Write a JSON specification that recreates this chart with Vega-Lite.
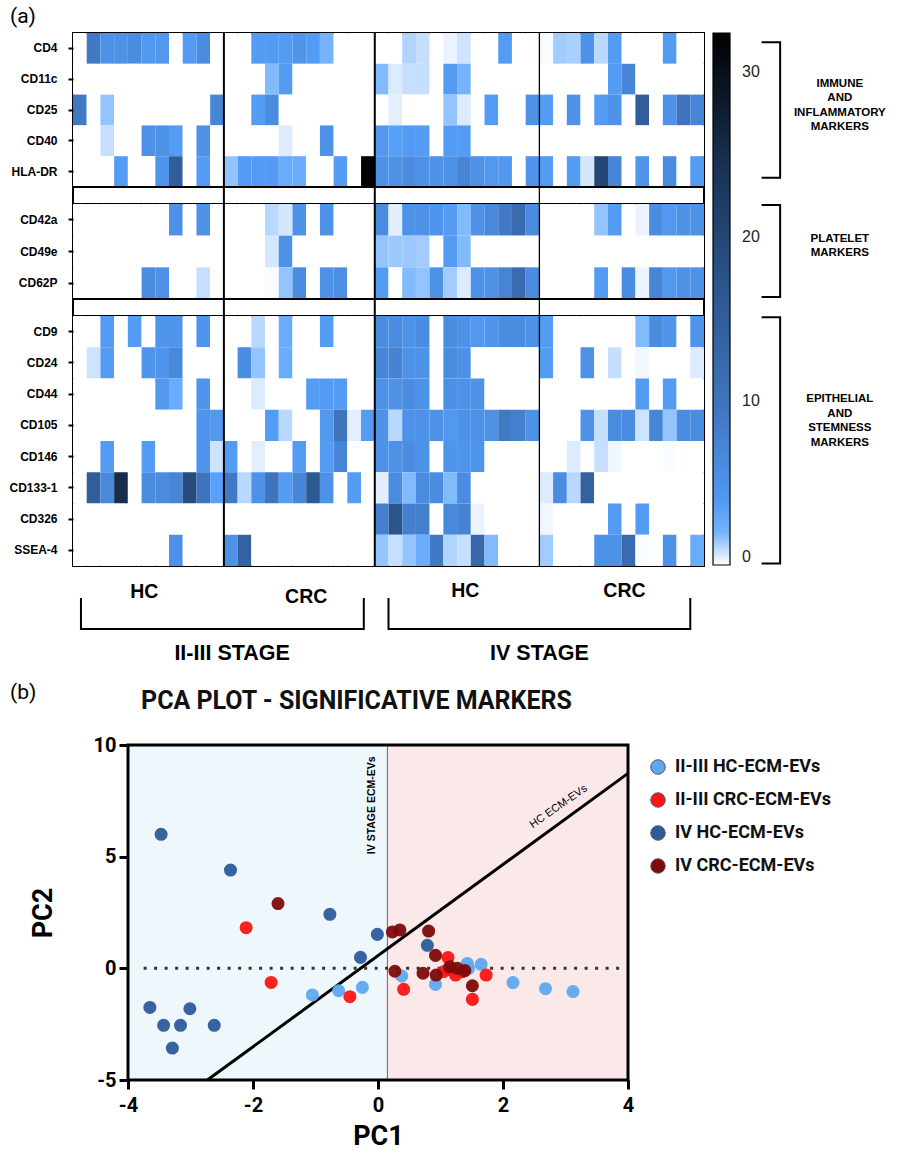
{
"$schema":"https://vega.github.io/schema/vega-lite/v6.json",
"background":"white",
"padding":{"left":7,"top":6,"right":0,"bottom":12},
"config":{"view":{"stroke":null},"font":"Roboto","axis":{"grid":false}},
"title":{"text":"(a)","anchor":"start","frame":"group","dx":-63,"offset":4,"font":"Roboto","fontSize":21,"fontWeight":"normal","color":"black"},
"datasets":{
"div":[{"s":12},{"s":23},{"s":35}],
"pca":[
{"g":"II-III HC-ECM-EVs","x":-1.05,"y":-1.19},{"g":"II-III HC-ECM-EVs","x":-0.63,"y":-1.0},{"g":"II-III HC-ECM-EVs","x":-0.25,"y":-0.85},{"g":"II-III HC-ECM-EVs","x":0.38,"y":-0.34},{"g":"II-III HC-ECM-EVs","x":0.92,"y":-0.72},{"g":"II-III HC-ECM-EVs","x":1.43,"y":0.22},{"g":"II-III HC-ECM-EVs","x":1.65,"y":0.18},{"g":"II-III HC-ECM-EVs","x":2.16,"y":-0.64},{"g":"II-III HC-ECM-EVs","x":2.68,"y":-0.91},{"g":"II-III HC-ECM-EVs","x":3.12,"y":-1.04},{"g":"II-III HC-ECM-EVs","x":1.45,"y":0.0},
{"g":"II-III CRC-ECM-EVs","x":-2.11,"y":1.82},{"g":"II-III CRC-ECM-EVs","x":-1.71,"y":-0.63},{"g":"II-III CRC-ECM-EVs","x":-0.45,"y":-1.27},{"g":"II-III CRC-ECM-EVs","x":0.41,"y":-0.94},{"g":"II-III CRC-ECM-EVs","x":1.12,"y":0.48},{"g":"II-III CRC-ECM-EVs","x":1.12,"y":-0.05},{"g":"II-III CRC-ECM-EVs","x":1.24,"y":-0.3},{"g":"II-III CRC-ECM-EVs","x":1.73,"y":-0.3},{"g":"II-III CRC-ECM-EVs","x":1.51,"y":-1.39},{"g":"II-III CRC-ECM-EVs","x":1.05,"y":-0.15},{"g":"II-III CRC-ECM-EVs","x":1.35,"y":-0.15},
{"g":"IV HC-ECM-EVs","x":-3.47,"y":6.0},{"g":"IV HC-ECM-EVs","x":-2.36,"y":4.4},{"g":"IV HC-ECM-EVs","x":-0.77,"y":2.42},{"g":"IV HC-ECM-EVs","x":-0.01,"y":1.52},{"g":"IV HC-ECM-EVs","x":-0.28,"y":0.49},{"g":"IV HC-ECM-EVs","x":0.79,"y":1.03},{"g":"IV HC-ECM-EVs","x":-3.65,"y":-1.75},{"g":"IV HC-ECM-EVs","x":-3.43,"y":-2.55},{"g":"IV HC-ECM-EVs","x":-3.16,"y":-2.55},{"g":"IV HC-ECM-EVs","x":-3.01,"y":-1.81},{"g":"IV HC-ECM-EVs","x":-2.62,"y":-2.55},{"g":"IV HC-ECM-EVs","x":-3.29,"y":-3.57},
{"g":"IV CRC-ECM-EVs","x":-1.6,"y":2.9},{"g":"IV CRC-ECM-EVs","x":0.23,"y":1.63},{"g":"IV CRC-ECM-EVs","x":0.35,"y":1.72},{"g":"IV CRC-ECM-EVs","x":0.81,"y":1.67},{"g":"IV CRC-ECM-EVs","x":0.27,"y":-0.13},{"g":"IV CRC-ECM-EVs","x":0.92,"y":0.58},{"g":"IV CRC-ECM-EVs","x":0.72,"y":-0.22},{"g":"IV CRC-ECM-EVs","x":0.93,"y":-0.3},{"g":"IV CRC-ECM-EVs","x":1.27,"y":0.0},{"g":"IV CRC-ECM-EVs","x":1.39,"y":-0.1},{"g":"IV CRC-ECM-EVs","x":1.51,"y":-0.78},{"g":"IV CRC-ECM-EVs","x":1.15,"y":0.07}
],
"heat":[
{"m":"CD4","s":1,"v":0},{"m":"CD4","s":2,"v":9},{"m":"CD4","s":3,"v":5},{"m":"CD4","s":4,"v":5},{"m":"CD4","s":5,"v":6},{"m":"CD4","s":6,"v":4},{"m":"CD4","s":7,"v":4},{"m":"CD4","s":8,"v":0},{"m":"CD4","s":9,"v":3.5},{"m":"CD4","s":10,"v":6},{"m":"CD4","s":11,"v":0},{"m":"CD4","s":12,"v":0},{"m":"CD4","s":13,"v":0},{"m":"CD4","s":14,"v":3.5},{"m":"CD4","s":15,"v":3.5},{"m":"CD4","s":16,"v":3.5},{"m":"CD4","s":17,"v":4.5},{"m":"CD4","s":18,"v":3.5},{"m":"CD4","s":19,"v":2},{"m":"CD4","s":20,"v":0},{"m":"CD4","s":21,"v":0},{"m":"CD4","s":22,"v":0},{"m":"CD4","s":23,"v":0},{"m":"CD4","s":24,"v":0},{"m":"CD4","s":25,"v":1.1},{"m":"CD4","s":26,"v":0.8},{"m":"CD4","s":27,"v":0},{"m":"CD4","s":28,"v":0.3},{"m":"CD4","s":29,"v":0.7},{"m":"CD4","s":30,"v":0},{"m":"CD4","s":31,"v":0},{"m":"CD4","s":32,"v":3.5},{"m":"CD4","s":33,"v":0},{"m":"CD4","s":34,"v":0},{"m":"CD4","s":35,"v":0.1},{"m":"CD4","s":36,"v":1.3},{"m":"CD4","s":37,"v":1.2},{"m":"CD4","s":38,"v":5},{"m":"CD4","s":39,"v":1},{"m":"CD4","s":40,"v":3.5},{"m":"CD4","s":41,"v":0},{"m":"CD4","s":42,"v":0},{"m":"CD4","s":43,"v":0},{"m":"CD4","s":44,"v":3.5},{"m":"CD4","s":45,"v":0},{"m":"CD4","s":46,"v":0},
{"m":"CD11c","s":1,"v":0},{"m":"CD11c","s":2,"v":0},{"m":"CD11c","s":3,"v":0},{"m":"CD11c","s":4,"v":0},{"m":"CD11c","s":5,"v":0},{"m":"CD11c","s":6,"v":0},{"m":"CD11c","s":7,"v":0},{"m":"CD11c","s":8,"v":0},{"m":"CD11c","s":9,"v":0},{"m":"CD11c","s":10,"v":0},{"m":"CD11c","s":11,"v":0},{"m":"CD11c","s":12,"v":0},{"m":"CD11c","s":13,"v":0},{"m":"CD11c","s":14,"v":0},{"m":"CD11c","s":15,"v":1.8},{"m":"CD11c","s":16,"v":3.5},{"m":"CD11c","s":17,"v":0},{"m":"CD11c","s":18,"v":0},{"m":"CD11c","s":19,"v":0},{"m":"CD11c","s":20,"v":0},{"m":"CD11c","s":21,"v":0},{"m":"CD11c","s":22,"v":0},{"m":"CD11c","s":23,"v":1.8},{"m":"CD11c","s":24,"v":0.5},{"m":"CD11c","s":25,"v":0.8},{"m":"CD11c","s":26,"v":0.8},{"m":"CD11c","s":27,"v":0},{"m":"CD11c","s":28,"v":3.5},{"m":"CD11c","s":29,"v":2},{"m":"CD11c","s":30,"v":0},{"m":"CD11c","s":31,"v":0},{"m":"CD11c","s":32,"v":0},{"m":"CD11c","s":33,"v":0},{"m":"CD11c","s":34,"v":0},{"m":"CD11c","s":35,"v":0},{"m":"CD11c","s":36,"v":0},{"m":"CD11c","s":37,"v":0},{"m":"CD11c","s":38,"v":0},{"m":"CD11c","s":39,"v":0},{"m":"CD11c","s":40,"v":3.5},{"m":"CD11c","s":41,"v":7},{"m":"CD11c","s":42,"v":0},{"m":"CD11c","s":43,"v":0},{"m":"CD11c","s":44,"v":0},{"m":"CD11c","s":45,"v":0},{"m":"CD11c","s":46,"v":0},
{"m":"CD25","s":1,"v":9},{"m":"CD25","s":2,"v":0},{"m":"CD25","s":3,"v":1.5},{"m":"CD25","s":4,"v":0},{"m":"CD25","s":5,"v":0},{"m":"CD25","s":6,"v":0},{"m":"CD25","s":7,"v":0},{"m":"CD25","s":8,"v":0},{"m":"CD25","s":9,"v":0},{"m":"CD25","s":10,"v":0},{"m":"CD25","s":11,"v":7},{"m":"CD25","s":12,"v":0},{"m":"CD25","s":13,"v":0},{"m":"CD25","s":14,"v":3.5},{"m":"CD25","s":15,"v":6},{"m":"CD25","s":16,"v":0},{"m":"CD25","s":17,"v":0},{"m":"CD25","s":18,"v":0},{"m":"CD25","s":19,"v":0},{"m":"CD25","s":20,"v":0},{"m":"CD25","s":21,"v":0},{"m":"CD25","s":22,"v":0},{"m":"CD25","s":23,"v":0},{"m":"CD25","s":24,"v":0.4},{"m":"CD25","s":25,"v":0},{"m":"CD25","s":26,"v":0},{"m":"CD25","s":27,"v":0},{"m":"CD25","s":28,"v":1.5},{"m":"CD25","s":29,"v":0.5},{"m":"CD25","s":30,"v":0},{"m":"CD25","s":31,"v":3.5},{"m":"CD25","s":32,"v":0},{"m":"CD25","s":33,"v":0},{"m":"CD25","s":34,"v":5},{"m":"CD25","s":35,"v":3.5},{"m":"CD25","s":36,"v":0},{"m":"CD25","s":37,"v":5},{"m":"CD25","s":38,"v":0},{"m":"CD25","s":39,"v":3.5},{"m":"CD25","s":40,"v":5},{"m":"CD25","s":41,"v":0},{"m":"CD25","s":42,"v":15},{"m":"CD25","s":43,"v":0},{"m":"CD25","s":44,"v":5},{"m":"CD25","s":45,"v":10},{"m":"CD25","s":46,"v":7},
{"m":"CD40","s":1,"v":0},{"m":"CD40","s":2,"v":0},{"m":"CD40","s":3,"v":0.8},{"m":"CD40","s":4,"v":0},{"m":"CD40","s":5,"v":0},{"m":"CD40","s":6,"v":5},{"m":"CD40","s":7,"v":5},{"m":"CD40","s":8,"v":3.5},{"m":"CD40","s":9,"v":0},{"m":"CD40","s":10,"v":5},{"m":"CD40","s":11,"v":0},{"m":"CD40","s":12,"v":0},{"m":"CD40","s":13,"v":0},{"m":"CD40","s":14,"v":0},{"m":"CD40","s":15,"v":0},{"m":"CD40","s":16,"v":0.5},{"m":"CD40","s":17,"v":0},{"m":"CD40","s":18,"v":0},{"m":"CD40","s":19,"v":5},{"m":"CD40","s":20,"v":0},{"m":"CD40","s":21,"v":0},{"m":"CD40","s":22,"v":0},{"m":"CD40","s":23,"v":4},{"m":"CD40","s":24,"v":2.5},{"m":"CD40","s":25,"v":3.5},{"m":"CD40","s":26,"v":3.5},{"m":"CD40","s":27,"v":0},{"m":"CD40","s":28,"v":3.5},{"m":"CD40","s":29,"v":3.5},{"m":"CD40","s":30,"v":0},{"m":"CD40","s":31,"v":0},{"m":"CD40","s":32,"v":0},{"m":"CD40","s":33,"v":0},{"m":"CD40","s":34,"v":0},{"m":"CD40","s":35,"v":0},{"m":"CD40","s":36,"v":0},{"m":"CD40","s":37,"v":0},{"m":"CD40","s":38,"v":0},{"m":"CD40","s":39,"v":0},{"m":"CD40","s":40,"v":0},{"m":"CD40","s":41,"v":0},{"m":"CD40","s":42,"v":0},{"m":"CD40","s":43,"v":0},{"m":"CD40","s":44,"v":0},{"m":"CD40","s":45,"v":0},{"m":"CD40","s":46,"v":0},
{"m":"HLA-DR","s":1,"v":0},{"m":"HLA-DR","s":2,"v":0},{"m":"HLA-DR","s":3,"v":0},{"m":"HLA-DR","s":4,"v":3.5},{"m":"HLA-DR","s":5,"v":0},{"m":"HLA-DR","s":6,"v":0},{"m":"HLA-DR","s":7,"v":4.5},{"m":"HLA-DR","s":8,"v":15},{"m":"HLA-DR","s":9,"v":0},{"m":"HLA-DR","s":10,"v":3.5},{"m":"HLA-DR","s":11,"v":0},{"m":"HLA-DR","s":12,"v":1.5},{"m":"HLA-DR","s":13,"v":3.5},{"m":"HLA-DR","s":14,"v":3.5},{"m":"HLA-DR","s":15,"v":3.5},{"m":"HLA-DR","s":16,"v":2.2},{"m":"HLA-DR","s":17,"v":2.2},{"m":"HLA-DR","s":18,"v":0},{"m":"HLA-DR","s":19,"v":0},{"m":"HLA-DR","s":20,"v":3.5},{"m":"HLA-DR","s":21,"v":0},{"m":"HLA-DR","s":22,"v":32},{"m":"HLA-DR","s":23,"v":5},{"m":"HLA-DR","s":24,"v":5},{"m":"HLA-DR","s":25,"v":6},{"m":"HLA-DR","s":26,"v":5},{"m":"HLA-DR","s":27,"v":5},{"m":"HLA-DR","s":28,"v":5},{"m":"HLA-DR","s":29,"v":7},{"m":"HLA-DR","s":30,"v":5},{"m":"HLA-DR","s":31,"v":4},{"m":"HLA-DR","s":32,"v":4},{"m":"HLA-DR","s":33,"v":0},{"m":"HLA-DR","s":34,"v":4.5},{"m":"HLA-DR","s":35,"v":3.5},{"m":"HLA-DR","s":36,"v":0},{"m":"HLA-DR","s":37,"v":3.5},{"m":"HLA-DR","s":38,"v":0.6},{"m":"HLA-DR","s":39,"v":20},{"m":"HLA-DR","s":40,"v":7},{"m":"HLA-DR","s":41,"v":0},{"m":"HLA-DR","s":42,"v":4.5},{"m":"HLA-DR","s":43,"v":0},{"m":"HLA-DR","s":44,"v":6},{"m":"HLA-DR","s":45,"v":0},{"m":"HLA-DR","s":46,"v":3.5},
{"m":"CD42a","s":1,"v":0},{"m":"CD42a","s":2,"v":0},{"m":"CD42a","s":3,"v":0},{"m":"CD42a","s":4,"v":0},{"m":"CD42a","s":5,"v":0},{"m":"CD42a","s":6,"v":0},{"m":"CD42a","s":7,"v":0},{"m":"CD42a","s":8,"v":5},{"m":"CD42a","s":9,"v":0},{"m":"CD42a","s":10,"v":5},{"m":"CD42a","s":11,"v":0},{"m":"CD42a","s":12,"v":0},{"m":"CD42a","s":13,"v":0},{"m":"CD42a","s":14,"v":0},{"m":"CD42a","s":15,"v":1},{"m":"CD42a","s":16,"v":0.6},{"m":"CD42a","s":17,"v":5},{"m":"CD42a","s":18,"v":0},{"m":"CD42a","s":19,"v":5},{"m":"CD42a","s":20,"v":0},{"m":"CD42a","s":21,"v":0},{"m":"CD42a","s":22,"v":0},{"m":"CD42a","s":23,"v":6},{"m":"CD42a","s":24,"v":0.4},{"m":"CD42a","s":25,"v":5},{"m":"CD42a","s":26,"v":5},{"m":"CD42a","s":27,"v":4.5},{"m":"CD42a","s":28,"v":3.5},{"m":"CD42a","s":29,"v":1.8},{"m":"CD42a","s":30,"v":5},{"m":"CD42a","s":31,"v":6.5},{"m":"CD42a","s":32,"v":9},{"m":"CD42a","s":33,"v":12},{"m":"CD42a","s":34,"v":6},{"m":"CD42a","s":35,"v":0},{"m":"CD42a","s":36,"v":0},{"m":"CD42a","s":37,"v":0},{"m":"CD42a","s":38,"v":0},{"m":"CD42a","s":39,"v":1.5},{"m":"CD42a","s":40,"v":3.5},{"m":"CD42a","s":41,"v":0},{"m":"CD42a","s":42,"v":0.3},{"m":"CD42a","s":43,"v":6},{"m":"CD42a","s":44,"v":4},{"m":"CD42a","s":45,"v":5},{"m":"CD42a","s":46,"v":5},
{"m":"CD49e","s":1,"v":0},{"m":"CD49e","s":2,"v":0},{"m":"CD49e","s":3,"v":0},{"m":"CD49e","s":4,"v":0},{"m":"CD49e","s":5,"v":0},{"m":"CD49e","s":6,"v":0},{"m":"CD49e","s":7,"v":0},{"m":"CD49e","s":8,"v":0},{"m":"CD49e","s":9,"v":0},{"m":"CD49e","s":10,"v":0},{"m":"CD49e","s":11,"v":0},{"m":"CD49e","s":12,"v":0},{"m":"CD49e","s":13,"v":0},{"m":"CD49e","s":14,"v":0},{"m":"CD49e","s":15,"v":0.6},{"m":"CD49e","s":16,"v":5},{"m":"CD49e","s":17,"v":0},{"m":"CD49e","s":18,"v":0},{"m":"CD49e","s":19,"v":0},{"m":"CD49e","s":20,"v":0},{"m":"CD49e","s":21,"v":0},{"m":"CD49e","s":22,"v":0},{"m":"CD49e","s":23,"v":1.5},{"m":"CD49e","s":24,"v":1.4},{"m":"CD49e","s":25,"v":1.4},{"m":"CD49e","s":26,"v":1.3},{"m":"CD49e","s":27,"v":0},{"m":"CD49e","s":28,"v":3.5},{"m":"CD49e","s":29,"v":1.8},{"m":"CD49e","s":30,"v":0},{"m":"CD49e","s":31,"v":0},{"m":"CD49e","s":32,"v":0},{"m":"CD49e","s":33,"v":0},{"m":"CD49e","s":34,"v":0},{"m":"CD49e","s":35,"v":0},{"m":"CD49e","s":36,"v":0},{"m":"CD49e","s":37,"v":0},{"m":"CD49e","s":38,"v":0},{"m":"CD49e","s":39,"v":0},{"m":"CD49e","s":40,"v":0},{"m":"CD49e","s":41,"v":0},{"m":"CD49e","s":42,"v":0},{"m":"CD49e","s":43,"v":0},{"m":"CD49e","s":44,"v":0},{"m":"CD49e","s":45,"v":0},{"m":"CD49e","s":46,"v":0},
{"m":"CD62P","s":1,"v":0},{"m":"CD62P","s":2,"v":0},{"m":"CD62P","s":3,"v":0},{"m":"CD62P","s":4,"v":0},{"m":"CD62P","s":5,"v":0},{"m":"CD62P","s":6,"v":6},{"m":"CD62P","s":7,"v":5},{"m":"CD62P","s":8,"v":0},{"m":"CD62P","s":9,"v":0},{"m":"CD62P","s":10,"v":0.8},{"m":"CD62P","s":11,"v":0},{"m":"CD62P","s":12,"v":0},{"m":"CD62P","s":13,"v":0},{"m":"CD62P","s":14,"v":0},{"m":"CD62P","s":15,"v":0.1},{"m":"CD62P","s":16,"v":1.5},{"m":"CD62P","s":17,"v":6},{"m":"CD62P","s":18,"v":0},{"m":"CD62P","s":19,"v":5},{"m":"CD62P","s":20,"v":5.5},{"m":"CD62P","s":21,"v":0},{"m":"CD62P","s":22,"v":0},{"m":"CD62P","s":23,"v":3.5},{"m":"CD62P","s":24,"v":0},{"m":"CD62P","s":25,"v":1.8},{"m":"CD62P","s":26,"v":1.5},{"m":"CD62P","s":27,"v":5},{"m":"CD62P","s":28,"v":1.3},{"m":"CD62P","s":29,"v":0.5},{"m":"CD62P","s":30,"v":5},{"m":"CD62P","s":31,"v":5},{"m":"CD62P","s":32,"v":7.5},{"m":"CD62P","s":33,"v":12},{"m":"CD62P","s":34,"v":6},{"m":"CD62P","s":35,"v":0},{"m":"CD62P","s":36,"v":0},{"m":"CD62P","s":37,"v":0},{"m":"CD62P","s":38,"v":0},{"m":"CD62P","s":39,"v":3.5},{"m":"CD62P","s":40,"v":0},{"m":"CD62P","s":41,"v":6},{"m":"CD62P","s":42,"v":0.3},{"m":"CD62P","s":43,"v":7},{"m":"CD62P","s":44,"v":4},{"m":"CD62P","s":45,"v":5},{"m":"CD62P","s":46,"v":5},
{"m":"CD9","s":1,"v":0},{"m":"CD9","s":2,"v":0},{"m":"CD9","s":3,"v":3.5},{"m":"CD9","s":4,"v":0},{"m":"CD9","s":5,"v":3.5},{"m":"CD9","s":6,"v":0},{"m":"CD9","s":7,"v":4.5},{"m":"CD9","s":8,"v":4.5},{"m":"CD9","s":9,"v":0},{"m":"CD9","s":10,"v":4.5},{"m":"CD9","s":11,"v":0},{"m":"CD9","s":12,"v":0},{"m":"CD9","s":13,"v":0},{"m":"CD9","s":14,"v":1},{"m":"CD9","s":15,"v":0},{"m":"CD9","s":16,"v":2.2},{"m":"CD9","s":17,"v":0},{"m":"CD9","s":18,"v":0},{"m":"CD9","s":19,"v":3.5},{"m":"CD9","s":20,"v":0},{"m":"CD9","s":21,"v":0},{"m":"CD9","s":22,"v":0},{"m":"CD9","s":23,"v":6},{"m":"CD9","s":24,"v":6},{"m":"CD9","s":25,"v":5},{"m":"CD9","s":26,"v":6},{"m":"CD9","s":27,"v":0},{"m":"CD9","s":28,"v":6},{"m":"CD9","s":29,"v":5},{"m":"CD9","s":30,"v":4},{"m":"CD9","s":31,"v":4.5},{"m":"CD9","s":32,"v":6},{"m":"CD9","s":33,"v":6},{"m":"CD9","s":34,"v":5},{"m":"CD9","s":35,"v":3.5},{"m":"CD9","s":36,"v":0},{"m":"CD9","s":37,"v":0},{"m":"CD9","s":38,"v":0},{"m":"CD9","s":39,"v":0},{"m":"CD9","s":40,"v":0},{"m":"CD9","s":41,"v":0},{"m":"CD9","s":42,"v":1.8},{"m":"CD9","s":43,"v":6},{"m":"CD9","s":44,"v":4.5},{"m":"CD9","s":45,"v":0},{"m":"CD9","s":46,"v":4.5},
{"m":"CD24","s":1,"v":0},{"m":"CD24","s":2,"v":0.7},{"m":"CD24","s":3,"v":3.5},{"m":"CD24","s":4,"v":0},{"m":"CD24","s":5,"v":0},{"m":"CD24","s":6,"v":4.5},{"m":"CD24","s":7,"v":4.5},{"m":"CD24","s":8,"v":6.5},{"m":"CD24","s":9,"v":0},{"m":"CD24","s":10,"v":0},{"m":"CD24","s":11,"v":0},{"m":"CD24","s":12,"v":0},{"m":"CD24","s":13,"v":6},{"m":"CD24","s":14,"v":1.5},{"m":"CD24","s":15,"v":0},{"m":"CD24","s":16,"v":2.2},{"m":"CD24","s":17,"v":0},{"m":"CD24","s":18,"v":0},{"m":"CD24","s":19,"v":0},{"m":"CD24","s":20,"v":0},{"m":"CD24","s":21,"v":0},{"m":"CD24","s":22,"v":0},{"m":"CD24","s":23,"v":7},{"m":"CD24","s":24,"v":7.5},{"m":"CD24","s":25,"v":5},{"m":"CD24","s":26,"v":5},{"m":"CD24","s":27,"v":0},{"m":"CD24","s":28,"v":6},{"m":"CD24","s":29,"v":5},{"m":"CD24","s":30,"v":0},{"m":"CD24","s":31,"v":0},{"m":"CD24","s":32,"v":0},{"m":"CD24","s":33,"v":0},{"m":"CD24","s":34,"v":0},{"m":"CD24","s":35,"v":3.5},{"m":"CD24","s":36,"v":0},{"m":"CD24","s":37,"v":0},{"m":"CD24","s":38,"v":5},{"m":"CD24","s":39,"v":0},{"m":"CD24","s":40,"v":0.8},{"m":"CD24","s":41,"v":0},{"m":"CD24","s":42,"v":0.2},{"m":"CD24","s":43,"v":0},{"m":"CD24","s":44,"v":0},{"m":"CD24","s":45,"v":0},{"m":"CD24","s":46,"v":0.5},
{"m":"CD44","s":1,"v":0},{"m":"CD44","s":2,"v":0},{"m":"CD44","s":3,"v":0},{"m":"CD44","s":4,"v":0},{"m":"CD44","s":5,"v":0},{"m":"CD44","s":6,"v":0},{"m":"CD44","s":7,"v":4},{"m":"CD44","s":8,"v":2.2},{"m":"CD44","s":9,"v":0},{"m":"CD44","s":10,"v":4.5},{"m":"CD44","s":11,"v":0},{"m":"CD44","s":12,"v":0},{"m":"CD44","s":13,"v":0},{"m":"CD44","s":14,"v":0.5},{"m":"CD44","s":15,"v":0},{"m":"CD44","s":16,"v":0},{"m":"CD44","s":17,"v":0},{"m":"CD44","s":18,"v":3.5},{"m":"CD44","s":19,"v":3.5},{"m":"CD44","s":20,"v":3.5},{"m":"CD44","s":21,"v":0},{"m":"CD44","s":22,"v":0},{"m":"CD44","s":23,"v":5},{"m":"CD44","s":24,"v":5},{"m":"CD44","s":25,"v":6},{"m":"CD44","s":26,"v":5},{"m":"CD44","s":27,"v":0},{"m":"CD44","s":28,"v":5.5},{"m":"CD44","s":29,"v":5},{"m":"CD44","s":30,"v":5},{"m":"CD44","s":31,"v":0},{"m":"CD44","s":32,"v":0},{"m":"CD44","s":33,"v":0},{"m":"CD44","s":34,"v":0},{"m":"CD44","s":35,"v":0},{"m":"CD44","s":36,"v":0},{"m":"CD44","s":37,"v":0},{"m":"CD44","s":38,"v":0},{"m":"CD44","s":39,"v":0},{"m":"CD44","s":40,"v":0},{"m":"CD44","s":41,"v":0},{"m":"CD44","s":42,"v":3.5},{"m":"CD44","s":43,"v":0},{"m":"CD44","s":44,"v":3.5},{"m":"CD44","s":45,"v":0},{"m":"CD44","s":46,"v":0},
{"m":"CD105","s":1,"v":0},{"m":"CD105","s":2,"v":0},{"m":"CD105","s":3,"v":0},{"m":"CD105","s":4,"v":0},{"m":"CD105","s":5,"v":0},{"m":"CD105","s":6,"v":0},{"m":"CD105","s":7,"v":0},{"m":"CD105","s":8,"v":0},{"m":"CD105","s":9,"v":0},{"m":"CD105","s":10,"v":4.5},{"m":"CD105","s":11,"v":4},{"m":"CD105","s":12,"v":0},{"m":"CD105","s":13,"v":0},{"m":"CD105","s":14,"v":0},{"m":"CD105","s":15,"v":3.5},{"m":"CD105","s":16,"v":1},{"m":"CD105","s":17,"v":0},{"m":"CD105","s":18,"v":0},{"m":"CD105","s":19,"v":4},{"m":"CD105","s":20,"v":10},{"m":"CD105","s":21,"v":0.4},{"m":"CD105","s":22,"v":3.5},{"m":"CD105","s":23,"v":5},{"m":"CD105","s":24,"v":1},{"m":"CD105","s":25,"v":5},{"m":"CD105","s":26,"v":5},{"m":"CD105","s":27,"v":5},{"m":"CD105","s":28,"v":4},{"m":"CD105","s":29,"v":5},{"m":"CD105","s":30,"v":5},{"m":"CD105","s":31,"v":5},{"m":"CD105","s":32,"v":9},{"m":"CD105","s":33,"v":8},{"m":"CD105","s":34,"v":5},{"m":"CD105","s":35,"v":0},{"m":"CD105","s":36,"v":0},{"m":"CD105","s":37,"v":0},{"m":"CD105","s":38,"v":5},{"m":"CD105","s":39,"v":0.8},{"m":"CD105","s":40,"v":6},{"m":"CD105","s":41,"v":6},{"m":"CD105","s":42,"v":0.7},{"m":"CD105","s":43,"v":7},{"m":"CD105","s":44,"v":1.5},{"m":"CD105","s":45,"v":6},{"m":"CD105","s":46,"v":6},
{"m":"CD146","s":1,"v":0},{"m":"CD146","s":2,"v":0},{"m":"CD146","s":3,"v":3.5},{"m":"CD146","s":4,"v":0},{"m":"CD146","s":5,"v":0},{"m":"CD146","s":6,"v":3.5},{"m":"CD146","s":7,"v":0},{"m":"CD146","s":8,"v":0},{"m":"CD146","s":9,"v":0},{"m":"CD146","s":10,"v":4.5},{"m":"CD146","s":11,"v":0.7},{"m":"CD146","s":12,"v":3.5},{"m":"CD146","s":13,"v":0},{"m":"CD146","s":14,"v":0.4},{"m":"CD146","s":15,"v":0},{"m":"CD146","s":16,"v":0},{"m":"CD146","s":17,"v":3.5},{"m":"CD146","s":18,"v":0},{"m":"CD146","s":19,"v":3.5},{"m":"CD146","s":20,"v":7},{"m":"CD146","s":21,"v":0},{"m":"CD146","s":22,"v":0},{"m":"CD146","s":23,"v":5},{"m":"CD146","s":24,"v":5},{"m":"CD146","s":25,"v":6},{"m":"CD146","s":26,"v":5},{"m":"CD146","s":27,"v":0},{"m":"CD146","s":28,"v":4.5},{"m":"CD146","s":29,"v":4.5},{"m":"CD146","s":30,"v":4.5},{"m":"CD146","s":31,"v":0},{"m":"CD146","s":32,"v":0},{"m":"CD146","s":33,"v":0},{"m":"CD146","s":34,"v":0},{"m":"CD146","s":35,"v":0},{"m":"CD146","s":36,"v":0},{"m":"CD146","s":37,"v":0.5},{"m":"CD146","s":38,"v":0},{"m":"CD146","s":39,"v":0.8},{"m":"CD146","s":40,"v":0.2},{"m":"CD146","s":41,"v":0},{"m":"CD146","s":42,"v":0},{"m":"CD146","s":43,"v":0},{"m":"CD146","s":44,"v":0.1},{"m":"CD146","s":45,"v":0},{"m":"CD146","s":46,"v":0},
{"m":"CD133-1","s":1,"v":0},{"m":"CD133-1","s":2,"v":15},{"m":"CD133-1","s":3,"v":6.5},{"m":"CD133-1","s":4,"v":25},{"m":"CD133-1","s":5,"v":0},{"m":"CD133-1","s":6,"v":6},{"m":"CD133-1","s":7,"v":6},{"m":"CD133-1","s":8,"v":7},{"m":"CD133-1","s":9,"v":19},{"m":"CD133-1","s":10,"v":10},{"m":"CD133-1","s":11,"v":2.5},{"m":"CD133-1","s":12,"v":9},{"m":"CD133-1","s":13,"v":1},{"m":"CD133-1","s":14,"v":5},{"m":"CD133-1","s":15,"v":10},{"m":"CD133-1","s":16,"v":3.5},{"m":"CD133-1","s":17,"v":7},{"m":"CD133-1","s":18,"v":16},{"m":"CD133-1","s":19,"v":5},{"m":"CD133-1","s":20,"v":0},{"m":"CD133-1","s":21,"v":3.5},{"m":"CD133-1","s":22,"v":0},{"m":"CD133-1","s":23,"v":0.4},{"m":"CD133-1","s":24,"v":6},{"m":"CD133-1","s":25,"v":1.8},{"m":"CD133-1","s":26,"v":6},{"m":"CD133-1","s":27,"v":6},{"m":"CD133-1","s":28,"v":1.8},{"m":"CD133-1","s":29,"v":6},{"m":"CD133-1","s":30,"v":0},{"m":"CD133-1","s":31,"v":0},{"m":"CD133-1","s":32,"v":0},{"m":"CD133-1","s":33,"v":0},{"m":"CD133-1","s":34,"v":0},{"m":"CD133-1","s":35,"v":0.5},{"m":"CD133-1","s":36,"v":6},{"m":"CD133-1","s":37,"v":1},{"m":"CD133-1","s":38,"v":14},{"m":"CD133-1","s":39,"v":0},{"m":"CD133-1","s":40,"v":0},{"m":"CD133-1","s":41,"v":0},{"m":"CD133-1","s":42,"v":0},{"m":"CD133-1","s":43,"v":0},{"m":"CD133-1","s":44,"v":0},{"m":"CD133-1","s":45,"v":0},{"m":"CD133-1","s":46,"v":0},
{"m":"CD326","s":1,"v":0},{"m":"CD326","s":2,"v":0},{"m":"CD326","s":3,"v":0},{"m":"CD326","s":4,"v":0},{"m":"CD326","s":5,"v":0},{"m":"CD326","s":6,"v":0},{"m":"CD326","s":7,"v":0},{"m":"CD326","s":8,"v":0},{"m":"CD326","s":9,"v":0},{"m":"CD326","s":10,"v":0},{"m":"CD326","s":11,"v":0},{"m":"CD326","s":12,"v":0},{"m":"CD326","s":13,"v":0},{"m":"CD326","s":14,"v":0},{"m":"CD326","s":15,"v":0},{"m":"CD326","s":16,"v":0},{"m":"CD326","s":17,"v":0},{"m":"CD326","s":18,"v":0},{"m":"CD326","s":19,"v":0},{"m":"CD326","s":20,"v":0},{"m":"CD326","s":21,"v":0},{"m":"CD326","s":22,"v":0},{"m":"CD326","s":23,"v":8},{"m":"CD326","s":24,"v":17},{"m":"CD326","s":25,"v":8},{"m":"CD326","s":26,"v":8},{"m":"CD326","s":27,"v":0},{"m":"CD326","s":28,"v":6.5},{"m":"CD326","s":29,"v":7.5},{"m":"CD326","s":30,"v":0.3},{"m":"CD326","s":31,"v":0},{"m":"CD326","s":32,"v":0},{"m":"CD326","s":33,"v":0},{"m":"CD326","s":34,"v":0},{"m":"CD326","s":35,"v":0.2},{"m":"CD326","s":36,"v":0},{"m":"CD326","s":37,"v":0},{"m":"CD326","s":38,"v":0},{"m":"CD326","s":39,"v":0},{"m":"CD326","s":40,"v":3.5},{"m":"CD326","s":41,"v":0},{"m":"CD326","s":42,"v":3.5},{"m":"CD326","s":43,"v":0},{"m":"CD326","s":44,"v":0},{"m":"CD326","s":45,"v":0},{"m":"CD326","s":46,"v":0},
{"m":"SSEA-4","s":1,"v":0},{"m":"SSEA-4","s":2,"v":0},{"m":"SSEA-4","s":3,"v":0},{"m":"SSEA-4","s":4,"v":0},{"m":"SSEA-4","s":5,"v":0},{"m":"SSEA-4","s":6,"v":0},{"m":"SSEA-4","s":7,"v":0},{"m":"SSEA-4","s":8,"v":5},{"m":"SSEA-4","s":9,"v":0},{"m":"SSEA-4","s":10,"v":0},{"m":"SSEA-4","s":11,"v":0},{"m":"SSEA-4","s":12,"v":5},{"m":"SSEA-4","s":13,"v":14},{"m":"SSEA-4","s":14,"v":0},{"m":"SSEA-4","s":15,"v":0},{"m":"SSEA-4","s":16,"v":0},{"m":"SSEA-4","s":17,"v":0},{"m":"SSEA-4","s":18,"v":0},{"m":"SSEA-4","s":19,"v":0},{"m":"SSEA-4","s":20,"v":0},{"m":"SSEA-4","s":21,"v":0},{"m":"SSEA-4","s":22,"v":0},{"m":"SSEA-4","s":23,"v":1.5},{"m":"SSEA-4","s":24,"v":0.8},{"m":"SSEA-4","s":25,"v":1.5},{"m":"SSEA-4","s":26,"v":2.2},{"m":"SSEA-4","s":27,"v":9},{"m":"SSEA-4","s":28,"v":1.1},{"m":"SSEA-4","s":29,"v":0.8},{"m":"SSEA-4","s":30,"v":13},{"m":"SSEA-4","s":31,"v":1.8},{"m":"SSEA-4","s":32,"v":0},{"m":"SSEA-4","s":33,"v":0},{"m":"SSEA-4","s":34,"v":0},{"m":"SSEA-4","s":35,"v":1.3},{"m":"SSEA-4","s":36,"v":0},{"m":"SSEA-4","s":37,"v":0},{"m":"SSEA-4","s":38,"v":0},{"m":"SSEA-4","s":39,"v":5},{"m":"SSEA-4","s":40,"v":5},{"m":"SSEA-4","s":41,"v":12},{"m":"SSEA-4","s":42,"v":0.1},{"m":"SSEA-4","s":43,"v":0},{"m":"SSEA-4","s":44,"v":5},{"m":"SSEA-4","s":45,"v":0},{"m":"SSEA-4","s":46,"v":2.2}
]},
"bounds":"flush",
"spacing":0,
"vconcat":[
{"width":631,"height":154,"view":{"stroke":"black","strokeWidth":2},
 "resolve":{"scale":{"x":"independent","y":"independent"}},
 "layer":[
  {"data":{"name":"heat"},"transform":[{"filter":{"field":"m","oneOf":["CD4","CD11c","CD25","CD40","HLA-DR"]}}],
   "mark":{"type":"rect"},
   "encoding":{
    "x":{"field":"s","type":"ordinal","scale":{"domain":[1,2,3,4,5,6,7,8,9,10,11,12,13,14,15,16,17,18,19,20,21,22,23,24,25,26,27,28,29,30,31,32,33,34,35,36,37,38,39,40,41,42,43,44,45,46],"paddingInner":0,"paddingOuter":0},"axis":null},
    "y":{"field":"m","type":"nominal","sort":null,"scale":{"domain":["CD4","CD11c","CD25","CD40","HLA-DR"],"paddingInner":0,"paddingOuter":0},"axis":{"title":null,"domain":false,"labelFont":"Liberation Sans","labelFontWeight":"bold","labelFontSize":12,"labelColor":"black","tickColor":"black","tickWidth":2,"tickSize":5,"labelPadding":11}},
    "fill":{"field":"v","type":"quantitative","scale":{"domain":[0,0.5,1.5,2.5,6,10,16,24,32.4],"range":["#ffffff","#dcebff","#94c4ff","#58a1fb","#4a8ce0","#3f73bb","#2e5a94","#1a3356","#000000"],"interpolate":"rgb","clamp":true},
     "legend":{"type":"gradient","orient":"none","legendX":640,"legendY":0,"direction":"vertical","gradientLength":532,"gradientThickness":17,"gradientStrokeColor":"black","gradientStrokeWidth":1.2,"values":[0,10,20,30],"title":null,"labelFont":"Liberation Sans","labelFontSize":16,"labelColor":"#222","labelOffset":12,"padding":0}}
   }},
  {"data":{"name":"div"},"mark":{"type":"rule","color":"black"},"encoding":{"x":{"field":"s","type":"ordinal","bandPosition":0,"scale":{"domain":[1,2,3,4,5,6,7,8,9,10,11,12,13,14,15,16,17,18,19,20,21,22,23,24,25,26,27,28,29,30,31,32,33,34,35,36,37,38,39,40,41,42,43,44,45,46],"paddingInner":0,"paddingOuter":0},"axis":null},"strokeWidth":{"condition":{"test":"datum.s == 35","value":1.3},"value":2}}},
  {"data":{"values":[{"o":1,"bx":50.2,"by":0.94},{"o":2,"bx":51.55,"by":0.94},{"o":3,"bx":51.55,"by":0.06},{"o":4,"bx":50.2,"by":0.06}]},
   "mark":{"type":"line","color":"black","strokeWidth":2,"strokeJoin":"miter"},
   "encoding":{"x":{"field":"bx","type":"quantitative","scale":{"domain":[0,46],"nice":false},"axis":null},"y":{"field":"by","type":"quantitative","scale":{"domain":[0,1],"nice":false},"axis":null},"order":{"field":"o"}}},
  {"data":{"values":[{"t":"IMMUNE\nAND\nINFLAMMATORY\nMARKERS","tx":55.9,"ty":0.669}]},
   "mark":{"type":"text","lineBreak":"\n","font":"Liberation Sans","fontWeight":"bold","fontSize":11.5,"lineHeight":14.5,"align":"center","baseline":"middle","color":"black"},
   "encoding":{"x":{"field":"tx","type":"quantitative","scale":{"domain":[0,46],"nice":false},"axis":null},"y":{"field":"ty","type":"quantitative","scale":{"domain":[0,1],"nice":false},"axis":null},"text":{"field":"t"}}}
 ]},
{"width":631,"height":17,"view":{"stroke":"black","strokeWidth":2},"data":{"name":"div"},"mark":{"type":"rule","color":"black"},
 "encoding":{"x":{"field":"s","type":"ordinal","bandPosition":0,"scale":{"domain":[1,2,3,4,5,6,7,8,9,10,11,12,13,14,15,16,17,18,19,20,21,22,23,24,25,26,27,28,29,30,31,32,33,34,35,36,37,38,39,40,41,42,43,44,45,46],"paddingInner":0,"paddingOuter":0},"axis":null},"strokeWidth":{"condition":{"test":"datum.s == 35","value":1.3},"value":2}}},
{"width":631,"height":95,"view":{"stroke":"black","strokeWidth":2},
 "resolve":{"scale":{"x":"independent","y":"independent"}},
 "layer":[
  {"data":{"name":"heat"},"transform":[{"filter":{"field":"m","oneOf":["CD42a","CD49e","CD62P"]}}],
   "mark":{"type":"rect"},
   "encoding":{
    "x":{"field":"s","type":"ordinal","scale":{"domain":[1,2,3,4,5,6,7,8,9,10,11,12,13,14,15,16,17,18,19,20,21,22,23,24,25,26,27,28,29,30,31,32,33,34,35,36,37,38,39,40,41,42,43,44,45,46],"paddingInner":0,"paddingOuter":0},"axis":null},
    "y":{"field":"m","type":"nominal","sort":null,"scale":{"domain":["CD42a","CD49e","CD62P"],"paddingInner":0,"paddingOuter":0},"axis":{"title":null,"domain":false,"labelFont":"Liberation Sans","labelFontWeight":"bold","labelFontSize":12,"labelColor":"black","tickColor":"black","tickWidth":2,"tickSize":5,"labelPadding":11}},
    "fill":{"field":"v","type":"quantitative","scale":{"domain":[0,0.5,1.5,2.5,6,10,16,24,32.4],"range":["#ffffff","#dcebff","#94c4ff","#58a1fb","#4a8ce0","#3f73bb","#2e5a94","#1a3356","#000000"],"interpolate":"rgb","clamp":true},
     "legend":{"type":"gradient","orient":"none","legendX":640,"legendY":0,"direction":"vertical","gradientLength":532,"gradientThickness":17,"gradientStrokeColor":"black","gradientStrokeWidth":1.2,"values":[0,10,20,30],"title":null,"labelFont":"Liberation Sans","labelFontSize":16,"labelColor":"#222","labelOffset":12,"padding":0}}
   }},
  {"data":{"name":"div"},"mark":{"type":"rule","color":"black"},"encoding":{"x":{"field":"s","type":"ordinal","bandPosition":0,"scale":{"domain":[1,2,3,4,5,6,7,8,9,10,11,12,13,14,15,16,17,18,19,20,21,22,23,24,25,26,27,28,29,30,31,32,33,34,35,36,37,38,39,40,41,42,43,44,45,46],"paddingInner":0,"paddingOuter":0},"axis":null},"strokeWidth":{"condition":{"test":"datum.s == 35","value":1.3},"value":2}}},
  {"data":{"values":[{"o":1,"bx":50.2,"by":0.99},{"o":2,"bx":51.55,"by":0.99},{"o":3,"bx":51.55,"by":0.02},{"o":4,"bx":50.2,"by":0.02}]},
   "mark":{"type":"line","color":"black","strokeWidth":2,"strokeJoin":"miter"},
   "encoding":{"x":{"field":"bx","type":"quantitative","scale":{"domain":[0,46],"nice":false},"axis":null},"y":{"field":"by","type":"quantitative","scale":{"domain":[0,1],"nice":false},"axis":null},"order":{"field":"o"}}},
  {"data":{"values":[{"t":"PLATELET\nMARKERS","tx":55.9,"ty":0.632}]},
   "mark":{"type":"text","lineBreak":"\n","font":"Liberation Sans","fontWeight":"bold","fontSize":11.5,"lineHeight":14.5,"align":"center","baseline":"middle","color":"black"},
   "encoding":{"x":{"field":"tx","type":"quantitative","scale":{"domain":[0,46],"nice":false},"axis":null},"y":{"field":"ty","type":"quantitative","scale":{"domain":[0,1],"nice":false},"axis":null},"text":{"field":"t"}}}
 ]},
{"width":631,"height":17,"view":{"stroke":"black","strokeWidth":2},"data":{"name":"div"},"mark":{"type":"rule","color":"black"},
 "encoding":{"x":{"field":"s","type":"ordinal","bandPosition":0,"scale":{"domain":[1,2,3,4,5,6,7,8,9,10,11,12,13,14,15,16,17,18,19,20,21,22,23,24,25,26,27,28,29,30,31,32,33,34,35,36,37,38,39,40,41,42,43,44,45,46],"paddingInner":0,"paddingOuter":0},"axis":null},"strokeWidth":{"condition":{"test":"datum.s == 35","value":1.3},"value":2}}},
{"width":631,"height":250,"view":{"stroke":"black","strokeWidth":2},
 "resolve":{"scale":{"x":"independent","y":"independent"}},
 "layer":[
  {"data":{"name":"heat"},"transform":[{"filter":{"field":"m","oneOf":["CD9","CD24","CD44","CD105","CD146","CD133-1","CD326","SSEA-4"]}}],
   "mark":{"type":"rect"},
   "encoding":{
    "x":{"field":"s","type":"ordinal","scale":{"domain":[1,2,3,4,5,6,7,8,9,10,11,12,13,14,15,16,17,18,19,20,21,22,23,24,25,26,27,28,29,30,31,32,33,34,35,36,37,38,39,40,41,42,43,44,45,46],"paddingInner":0,"paddingOuter":0},"axis":null},
    "y":{"field":"m","type":"nominal","sort":null,"scale":{"domain":["CD9","CD24","CD44","CD105","CD146","CD133-1","CD326","SSEA-4"],"paddingInner":0,"paddingOuter":0},"axis":{"title":null,"domain":false,"labelFont":"Liberation Sans","labelFontWeight":"bold","labelFontSize":12,"labelColor":"black","tickColor":"black","tickWidth":2,"tickSize":5,"labelPadding":11}},
    "fill":{"field":"v","type":"quantitative","scale":{"domain":[0,0.5,1.5,2.5,6,10,16,24,32.4],"range":["#ffffff","#dcebff","#94c4ff","#58a1fb","#4a8ce0","#3f73bb","#2e5a94","#1a3356","#000000"],"interpolate":"rgb","clamp":true},
     "legend":{"type":"gradient","orient":"none","legendX":640,"legendY":0,"direction":"vertical","gradientLength":532,"gradientThickness":17,"gradientStrokeColor":"black","gradientStrokeWidth":1.2,"values":[0,10,20,30],"title":null,"labelFont":"Liberation Sans","labelFontSize":16,"labelColor":"#222","labelOffset":12,"padding":0}}
   }},
  {"data":{"name":"div"},"mark":{"type":"rule","color":"black"},"encoding":{"x":{"field":"s","type":"ordinal","bandPosition":0,"scale":{"domain":[1,2,3,4,5,6,7,8,9,10,11,12,13,14,15,16,17,18,19,20,21,22,23,24,25,26,27,28,29,30,31,32,33,34,35,36,37,38,39,40,41,42,43,44,45,46],"paddingInner":0,"paddingOuter":0},"axis":null},"strokeWidth":{"condition":{"test":"datum.s == 35","value":1.3},"value":2}}},
  {"data":{"values":[{"o":1,"bx":50.2,"by":0.995},{"o":2,"bx":51.55,"by":0.995},{"o":3,"bx":51.55,"by":0.01},{"o":4,"bx":50.2,"by":0.01}]},
   "mark":{"type":"line","color":"black","strokeWidth":2,"strokeJoin":"miter"},
   "encoding":{"x":{"field":"bx","type":"quantitative","scale":{"domain":[0,46],"nice":false},"axis":null},"y":{"field":"by","type":"quantitative","scale":{"domain":[0,1],"nice":false},"axis":null},"order":{"field":"o"}}},
  {"data":{"values":[{"t":"EPITHELIAL\nAND\nSTEMNESS\nMARKERS","tx":55.9,"ty":0.668}]},
   "mark":{"type":"text","lineBreak":"\n","font":"Liberation Sans","fontWeight":"bold","fontSize":11.5,"lineHeight":14.5,"align":"center","baseline":"middle","color":"black"},
   "encoding":{"x":{"field":"tx","type":"quantitative","scale":{"domain":[0,46],"nice":false},"axis":null},"y":{"field":"ty","type":"quantitative","scale":{"domain":[0,1],"nice":false},"axis":null},"text":{"field":"t"}}}
 ]},
{"width":631,"height":179,
 "layer":[
  {"data":{"values":[{"g":1,"o":1,"bx":0.58,"by":32},{"g":1,"o":2,"bx":0.58,"by":63},{"g":1,"o":3,"bx":21.2,"by":63},{"g":1,"o":4,"bx":21.2,"by":32},{"g":2,"o":1,"bx":23.0,"by":32},{"g":2,"o":2,"bx":23.0,"by":63},{"g":2,"o":3,"bx":45.0,"by":63},{"g":2,"o":4,"bx":45.0,"by":32}]},
   "mark":{"type":"line","color":"black","strokeWidth":2,"strokeJoin":"miter"},
   "encoding":{"x":{"field":"bx","type":"quantitative","scale":{"domain":[0,46],"nice":false},"axis":null},"y":{"field":"by","type":"quantitative","scale":{"domain":[0,179],"nice":false,"reverse":true},"axis":null},"detail":{"field":"g"},"order":{"field":"o"}}},
  {"data":{"values":[{"t":"HC","tx":5.2,"ty":26},{"t":"CRC","tx":17.0,"ty":31},{"t":"HC","tx":28.6,"ty":25},{"t":"CRC","tx":40.2,"ty":25}]},
   "mark":{"type":"text","font":"Liberation Sans","fontWeight":"bold","fontSize":19.5,"align":"center","baseline":"middle","color":"black"},
   "encoding":{"x":{"field":"tx","type":"quantitative"},"y":{"field":"ty","type":"quantitative"},"text":{"field":"t"}}},
  {"data":{"values":[{"t":"II-III STAGE","tx":11.6,"ty":88},{"t":"IV STAGE","tx":34.0,"ty":88}]},
   "mark":{"type":"text","font":"Liberation Sans","fontWeight":"bold","fontSize":21.5,"align":"center","baseline":"middle","color":"black"},
   "encoding":{"x":{"field":"tx","type":"quantitative"},"y":{"field":"ty","type":"quantitative"},"text":{"field":"t"}}},
  {"data":{"values":[{"t":"(b)","tx":-4.59,"ty":127}]},
   "mark":{"type":"text","font":"Roboto","fontSize":21,"align":"left","baseline":"middle","color":"black"},
   "encoding":{"x":{"field":"tx","type":"quantitative"},"y":{"field":"ty","type":"quantitative"},"text":{"field":"t"}}}
 ]},
{"width":555,"height":335,
 "title":{"text":"PCA PLOT - SIGNIFICATIVE MARKERS","frame":"group","anchor":"middle","dx":6,"offset":21,"font":"Roboto","fontSize":25,"fontWeight":"bold","color":"#111"},
 "layer":[
  {"data":{"values":[{}]},"mark":{"type":"rect","color":"#eef7fc"},
   "encoding":{"x":{"datum":-4,"type":"quantitative","scale":{"domain":[-4.88,4],"nice":false,"zero":false},"axis":{"title":"PC1","values":[-4,-2,0,2,4],"labelExpr":"'' + datum.value","domain":false,"labelFont":"Roboto","labelFontWeight":"bold","labelFontSize":20,"labelColor":"black","tickColor":"black","tickWidth":3,"tickSize":9,"labelPadding":6,"labelFlush":false,"titleFont":"Roboto","titleFontSize":27,"titleFontWeight":"bold","titleColor":"black","titlePadding":8,"titleX":305,"grid":false}},
    "x2":{"datum":0.15},
    "y":{"datum":-5,"type":"quantitative","scale":{"domain":[-5,10],"nice":false,"zero":false},"axis":{"title":"PC2","offset":-55,"values":[-5,0,5,10],"labelExpr":"'' + datum.value","domain":false,"labelFont":"Roboto","labelFontWeight":"bold","labelFontSize":20,"labelColor":"black","tickColor":"black","tickWidth":3,"tickSize":9,"labelPadding":3,"labelFlush":false,"titleFont":"Roboto","titleFontSize":27,"titleFontWeight":"bold","titleColor":"black","titlePadding":36,"grid":false}},
    "y2":{"datum":10}}},
  {"data":{"values":[{}]},"mark":{"type":"rect","color":"#fbe8e8"},"encoding":{"x":{"datum":0.15},"x2":{"datum":4},"y":{"datum":-5},"y2":{"datum":10}}},
  {"data":{"values":[{}]},"mark":{"type":"rule","color":"#666","strokeWidth":1},"encoding":{"x":{"datum":0.15},"y":{"datum":-5},"y2":{"datum":10}}},
  {"data":{"values":[{}]},"mark":{"type":"rule","color":"#333","strokeWidth":3,"strokeDash":[3,7.5]},"encoding":{"x":{"datum":-3.75},"x2":{"datum":3.9},"y":{"datum":0}}},
  {"data":{"values":[{}]},"mark":{"type":"rule","color":"black","strokeWidth":3},"encoding":{"x":{"datum":-2.73},"y":{"datum":-5},"x2":{"datum":4},"y2":{"datum":8.73}}},
  {"data":{"values":[{"t":"IV STAGE ECM-EVs","tx":-0.09,"ty":7.3}]},"mark":{"type":"text","angle":270,"font":"Liberation Sans","fontWeight":"bold","fontSize":10.5,"align":"center","baseline":"middle","color":"black"},"encoding":{"x":{"field":"tx","type":"quantitative"},"y":{"field":"ty","type":"quantitative"},"text":{"field":"t"}}},
  {"data":{"values":[{"t":"HC ECM-EVs","tx":2.89,"ty":7.24}]},"mark":{"type":"text","angle":325,"font":"Liberation Sans","fontSize":11,"align":"center","baseline":"middle","color":"black"},"encoding":{"x":{"field":"tx","type":"quantitative"},"y":{"field":"ty","type":"quantitative"},"text":{"field":"t"}}},
  {"data":{"name":"pca"},"mark":{"type":"circle","size":170,"opacity":0.95},
   "encoding":{"x":{"field":"x","type":"quantitative"},"y":{"field":"y","type":"quantitative"},
    "color":{"field":"g","type":"nominal","scale":{"domain":["II-III HC-ECM-EVs","II-III CRC-ECM-EVs","IV HC-ECM-EVs","IV CRC-ECM-EVs"],"range":["#5fa8f0","#ff1414","#2c5b9c","#7d0b0b"]},
     "legend":{"orient":"none","legendX":576,"legendY":725,"title":null,"symbolType":"circle","symbolSize":210,"symbolStrokeColor":"#555","symbolStrokeWidth":1,"symbolOpacity":1,"labelFont":"Roboto","labelFontWeight":"bold","labelFontSize":18,"labelColor":"#111","rowPadding":13,"labelOffset":8,"padding":0}}}},
  {"data":{"values":[{}]},"mark":{"type":"rect","filled":false,"color":"black","strokeWidth":3},"encoding":{"x":{"datum":-4},"x2":{"datum":4},"y":{"datum":-5},"y2":{"datum":10}}}
 ]}
]
}
